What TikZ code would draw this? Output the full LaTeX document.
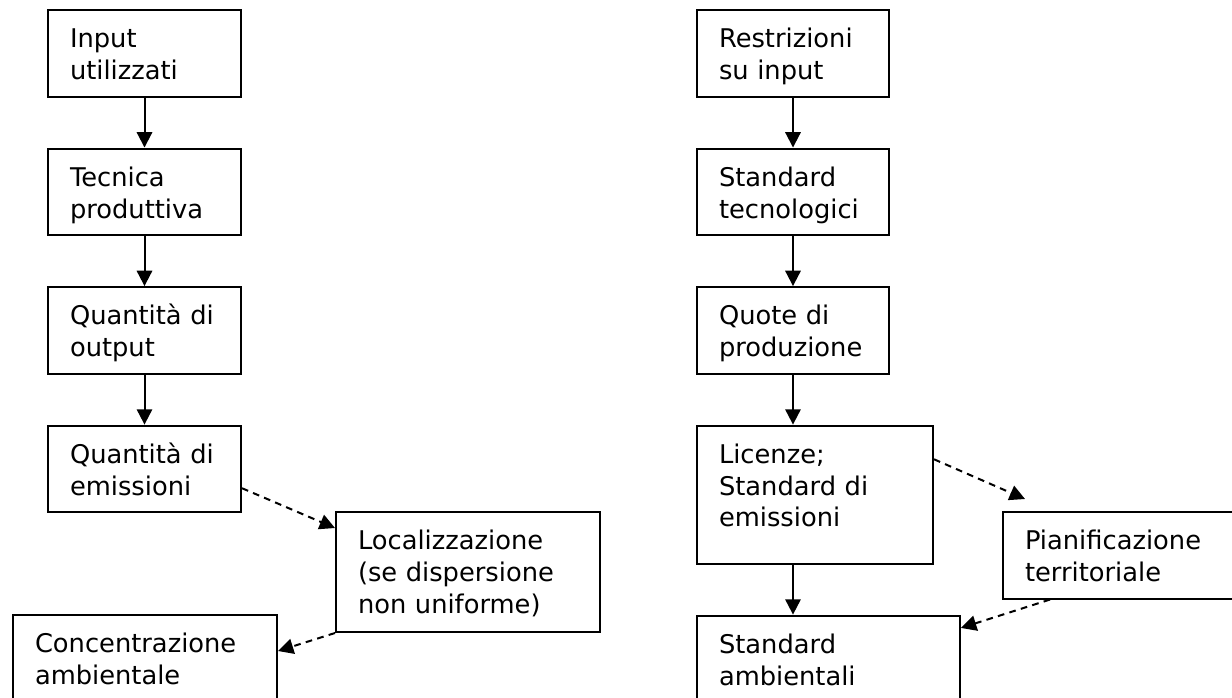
\documentclass[tikz,border=0pt]{standalone}
\usepackage{fontspec}
\setmainfont{DejaVu Sans}
\usetikzlibrary{positioning,arrows.meta}
\hyphenpenalty=10000
\exhyphenpenalty=10000

\begin{document}
\begin{tikzpicture}[x=0.75pt, y=-0.75pt]
\tikzstyle{arrow} 	= [line width = 1.5pt, color = black, -{Triangle[length=11.5pt, width=11.5pt]}] % define standard arrow
\tikzstyle{darrow} 	= [arrow, dash pattern = on 5pt off 4pt] % dashed arrow
\tikzstyle{box} 	= [draw, rectangle, line width = 1.5pt, inner xsep = 16.5pt, inner ysep = 0pt, text height = 28.4pt, align = left, font = \fontsize{19.3}{23.8}\selectfont] % define box
\tikzstyle{box2} 	= [box, text depth = 36.5pt] % two lines of text
\tikzstyle{box3} 	= [box, text depth = 75.1pt] % three lines, tall
\tikzstyle{box3s} 	= [box, text depth = 61.6pt] % three lines, short

\useasboundingbox (0,0) rectangle (1232,697);

% left chain
\node(inp)[box2, anchor = north west, text width = 111.75pt] at (47,9){Input\\utilizzati};
\node(tec)[box2, below = 37.5pt of inp, text width = 111.75pt]{Tecnica\\produttiva};
\node(out)[box2, below = 37.5pt of tec, text width = 111.75pt]{Quantità~di\\output};
\node(emi)[box2, below = 37.5pt of out, text width = 111.75pt]{Quantità~di\\emissioni};
\node(loc)[box3s, anchor = north west, text width = 165pt] at (335,511){Localizzazione\\(se~dispersione\\non~uniforme)};
\node(con)[box2, anchor = north west, text width = 165pt] at (12,614){Concentrazione\\ambientale};

% right chain
\node(res)[box2, anchor = north west, text width = 111pt] at (696,9){Restrizioni\\su~input};
\node(std)[box2, below = 37.5pt of res, text width = 111pt]{Standard\\tecnologici};
\node(quo)[box2, below = 37.5pt of std, text width = 111pt]{Quote~di\\produzione};
\node(lic)[box3, below = 37.5pt of quo.south west, anchor = north west, text width = 144pt]{Licenze;\\Standard~di\\emissioni};
\node(amb)[box2, below = 37.5pt of lic.south west, anchor = north west, text width = 164.25pt]{Standard\\ambientali};
\node(pia)[box2, anchor = north west, text width = 162pt] at (1002,511){Pianificazione\\territoriale};

% arrows
\draw[arrow](inp.south) -- (tec.north);
\draw[arrow](tec.south) -- (out.north);
\draw[arrow](out.south) -- (emi.north);
\draw[darrow]([yshift=-14.5pt]emi.east) -- ([yshift=-12.75pt]loc.north west);
\draw[darrow](loc.south west) -- ([yshift=-27.75pt]con.north east);

\draw[arrow](res.south) -- (std.north);
\draw[arrow](std.south) -- (quo.north);
\draw[arrow](quo.south) -- (quo.south |- lic.north);
\draw[arrow](lic.south -| quo.south) -- (amb.north -| quo.south);
\draw[darrow]([yshift=-26pt]lic.north east) -- ([xshift=17.25pt, yshift=9pt]pia.north west);
\draw[darrow]([xshift=36pt]pia.south west) -- ([yshift=-10pt]amb.north east);
\end{tikzpicture}
\end{document}
